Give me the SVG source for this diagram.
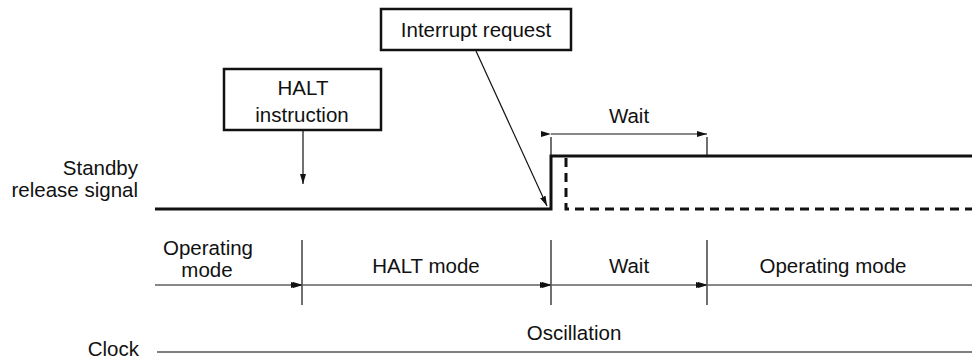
<svg xmlns="http://www.w3.org/2000/svg" width="972" height="361" viewBox="0 0 972 361">
<style>
text{font-family:"Liberation Sans",Arial,sans-serif;font-size:20.5px;fill:#111}
.c{text-anchor:middle}
.r{text-anchor:end}
.box{fill:#fff;stroke:#111;stroke-width:2.5}
.thin{stroke:#111;stroke-width:1.2;fill:none}
.sig{stroke:#111;stroke-width:3;fill:none}
.dash{stroke:#111;stroke-width:3;fill:none;stroke-dasharray:9,6}
</style>
<defs>
<marker id="ah" viewBox="0 0 10 6" refX="10" refY="3" markerWidth="10" markerHeight="6" markerUnits="userSpaceOnUse" orient="auto">
<path d="M0,0 L10,3 L0,6 Z" fill="#111"/>
</marker>
</defs>
<g id="labels">
<text class="r" x="138" y="175">Standby</text>
<text class="r" x="138" y="197">release signal</text>
<text class="r" x="139" y="356">Clock</text>
<text class="c" x="574" y="340">Oscillation</text>
<text class="c" x="629" y="123">Wait</text>
<text class="c" x="208" y="255">Operating</text>
<text class="c" x="207" y="277">mode</text>
<text class="c" x="426" y="273">HALT mode</text>
<text class="c" x="629" y="273">Wait</text>
<text class="c" x="833" y="273">Operating mode</text>
</g>
<g id="halt-instruction">
<rect class="box" x="224" y="69" width="157" height="61"/>
<text class="c" x="303" y="95">HALT</text>
<text class="c" x="302" y="122">instruction</text>
</g>
<g id="interrupt-request">
<rect class="box" x="381" y="9" width="190" height="41"/>
<text class="c" x="476" y="37">Interrupt request</text>
</g>
<g id="connectors">
<line class="thin" x1="303" y1="131" x2="303" y2="184" marker-end="url(#ah)"/>
<line class="thin" x1="476" y1="51" x2="547" y2="206" marker-end="url(#ah)"/>
<polyline class="sig" points="155,209 551,209 551,156 972,156"/>
<polyline class="dash" points="566,158 566,209 972,209"/>
<line class="thin" x1="551" y1="137" x2="551" y2="156"/>
<line class="thin" x1="707" y1="137" x2="707" y2="156"/>
<line class="thin" x1="551" y1="134" x2="707" y2="134" marker-start="url(#ah)" marker-end="url(#ah)"/>
<line class="thin" x1="302" y1="240" x2="302" y2="305"/>
<line class="thin" x1="551" y1="240" x2="551" y2="305"/>
<line class="thin" x1="707" y1="240" x2="707" y2="305"/>
<line class="thin" x1="155" y1="285" x2="301" y2="285" marker-end="url(#ah)"/>
<line class="thin" x1="303" y1="285" x2="550" y2="285" marker-start="url(#ah)" marker-end="url(#ah)"/>
<line class="thin" x1="552" y1="285" x2="706" y2="285" marker-start="url(#ah)" marker-end="url(#ah)"/>
<line class="thin" x1="708" y1="285" x2="972" y2="285" marker-start="url(#ah)"/>
<line x1="157" y1="352" x2="972" y2="352" stroke="#555" stroke-width="1.5"/>
</g>
</svg>
